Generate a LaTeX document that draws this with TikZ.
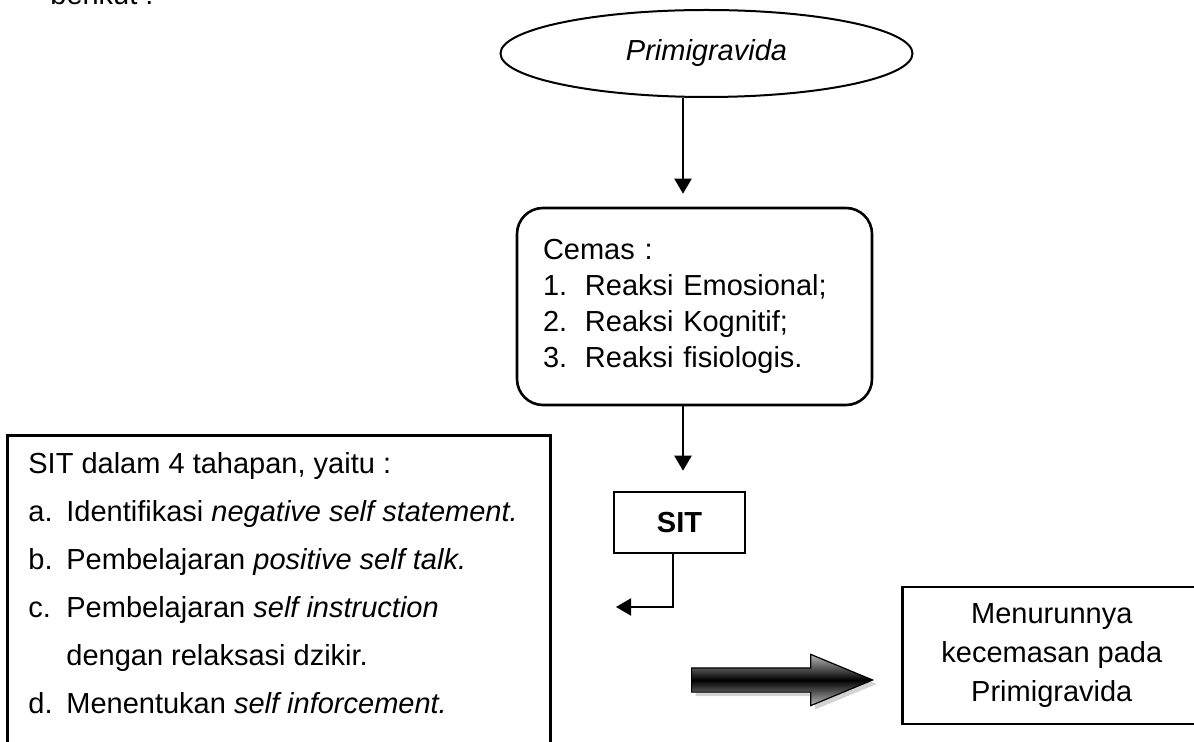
\documentclass[tikz,border=0pt]{standalone}
\usepackage{fontspec}
\setmainfont{Liberation Sans}
\usepackage{tikz}
\usetikzlibrary{positioning}
\usetikzlibrary{shapes.geometric}
\usetikzlibrary{shapes.arrows}
\usetikzlibrary{arrows.meta}
\usetikzlibrary{shadows}
\newcommand{\stepno}[1]{\makebox[19pt][l]{#1}}
\newcommand{\reakno}[1]{\makebox[21pt][l]{#1}}

\begin{document}
\begin{tikzpicture}[x=0.5pt,y=-0.5pt]
\tikzset{box/.style={
    draw,
    line width=1.3pt,
    inner sep=0pt,
    font=\fontsize{14.5pt}{18pt}\selectfont
  },
  flow/.style={
    line width=1.1pt,
    -{Triangle[width=8.5pt,length=7.5pt]}
  },
  plain text/.style={
    inner sep=0pt,
    font=\fontsize{14.5pt}{24pt}\selectfont
  },
  big arrow/.style={
    single arrow,
    single arrow tip angle=45,
    single arrow head extend=6.75pt,
    minimum width=25pt,
    minimum height=90.5pt,
    inner xsep=0pt, inner ysep=5.75pt,
    draw, line width=0.6pt,
    top color=gray!55, bottom color=gray!55, middle color=black,
    drop shadow={shadow xshift=2pt, shadow yshift=-2pt, opacity=.35}
  }
}
\useasboundingbox (0,0) rectangle (1194,742);

\node[plain text, anchor=base west] (intro) at (50,5) {berikut :};

\node[box, ellipse, line width=1pt, minimum width=206pt, minimum height=43.5pt] (prim) at (706.5,53.5) {\textit{Primigravida}};

\node[box, rounded corners=13pt, minimum width=177.5pt, minimum height=98.5pt,
  text width=151.5pt, align=left] (cemas) at (694.5,306.5)
  {Cemas :\\ \reakno{1.}Reaksi Emosional;\\ \reakno{2.}Reaksi Kognitif;\\ \reakno{3.}Reaksi fisiologis.};

\node[box, minimum width=65.5pt, minimum height=30.5pt, font=\fontsize{14.5pt}{18pt}\selectfont\bfseries] (sit) at (679.5,522.5) {SIT};

\node[box, anchor=north west, minimum width=271.5pt, minimum height=170pt] (frame) at (6,434) {};
\node[plain text, anchor=north west, align=left] (steps) at (28,452)
  {SIT dalam 4 tahapan, yaitu :\\
   \stepno{a.}Identifikasi \textit{negative self statement.}\\
   \stepno{b.}Pembelajaran \textit{positive self talk.}\\
   \stepno{c.}Pembelajaran \textit{self instruction}\\
   \stepno{}dengan relaksasi dzikir.\\
   \stepno{d.}Menentukan \textit{self inforcement.}};

\node[box, anchor=west, minimum width=149.5pt, minimum height=68.5pt, align=center,
  font=\fontsize{14.5pt}{19.5pt}\selectfont] (hasil) at (901,655.5)
  {Menurunnya\\kecemasan pada\\Primigravida};

\node[big arrow] (turun) at (767.5,680) {};

\coordinate (back) at (616,607);
\draw[flow] ([xshift=-11.75pt]prim.south) -- ([xshift=-5.75pt,yshift=6.5pt]cemas.north);
\draw[flow] ([xshift=-5.75pt]cemas.south) -- ([xshift=1.75pt,yshift=10pt]sit.north);
\draw[flow] ([xshift=-3.25pt]sit.south) |- (back);
\end{tikzpicture}
\end{document}
